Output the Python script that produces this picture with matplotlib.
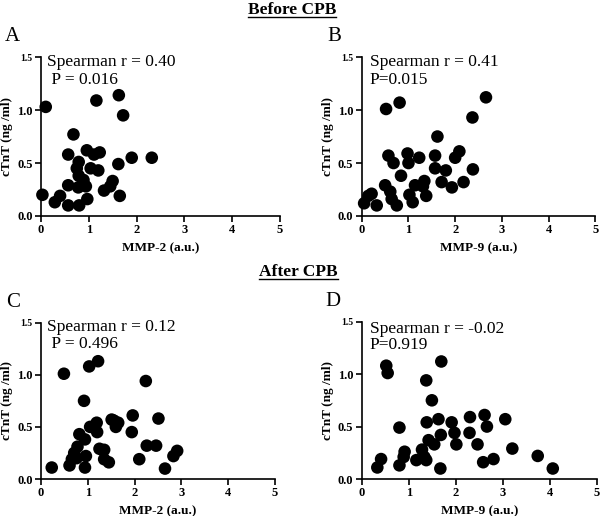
import matplotlib
matplotlib.use("Agg")
import matplotlib.pyplot as plt
from matplotlib.lines import Line2D

plt.rcParams["font.family"] = ["Liberation Serif", "DejaVu Serif"]

# Before CPB, MMP-2 vs cTnT
a_x = [0.03, 0.10, 0.29, 0.40, 0.57, 0.57, 0.57, 0.68, 0.80, 0.78, 0.79, 0.75, 0.79,
       0.89, 0.94, 0.97, 0.96, 1.04, 1.20, 1.11, 1.23, 1.16, 1.32, 1.45, 1.50, 1.62,
       1.65, 1.63, 1.72, 1.90, 2.32]
a_y = [0.20, 1.03, 0.13, 0.19, 0.10, 0.58, 0.29, 0.77, 0.10, 0.27, 0.51, 0.45, 0.38,
       0.34, 0.28, 0.16, 0.62, 0.45, 0.43, 0.58, 0.60, 1.09, 0.24, 0.28, 0.33, 0.49,
       0.19, 1.14, 0.95, 0.55, 0.55]

# Before CPB, MMP-9 vs cTnT
b_x = [0.05, 0.14, 0.21, 0.32, 0.50, 0.52, 0.57, 0.61, 0.64, 0.68, 0.75, 0.81, 0.84,
       0.98, 1.00, 1.02, 1.09, 1.14, 1.23, 1.31, 1.34, 1.38, 1.57, 1.57, 1.62, 1.71,
       1.80, 1.93, 2.00, 2.09, 2.18, 2.37, 2.38, 2.66]
b_y = [0.12, 0.19, 0.21, 0.10, 0.29, 1.01, 0.57, 0.23, 0.16, 0.50, 0.10, 1.07, 0.38,
       0.59, 0.50, 0.20, 0.13, 0.29, 0.55, 0.28, 0.33, 0.19, 0.57, 0.45, 0.75, 0.32,
       0.43, 0.27, 0.55, 0.61, 0.32, 0.93, 0.44, 1.12]

# After CPB, MMP-2 vs cTnT
c_x = [0.23, 0.49, 0.61, 0.71, 0.66, 0.78, 0.82, 0.76, 0.92, 0.94, 0.94, 0.96, 1.03,
       1.05, 1.19, 1.20, 1.22, 1.25, 1.35, 1.35, 1.45, 1.51, 1.56, 1.60, 1.65, 1.94,
       1.96, 2.10, 2.24, 2.26, 2.46, 2.51, 2.65, 2.83, 2.91]
c_y = [0.11, 1.01, 0.13, 0.25, 0.19, 0.31, 0.43, 0.20, 0.75, 0.38, 0.11, 0.22, 1.08,
       0.50, 0.54, 0.45, 1.13, 0.29, 0.28, 0.19, 0.16, 0.57, 0.56, 0.50, 0.54, 0.45,
       0.61, 0.19, 0.94, 0.32, 0.32, 0.58, 0.10, 0.22, 0.27]

# After CPB, MMP-9 vs cTnT
d_x = [0.33, 0.41, 0.52, 0.55, 0.80, 0.80, 0.89, 0.91, 1.16, 1.28, 1.33, 1.37, 1.37,
       1.38, 1.42, 1.49, 1.54, 1.63, 1.67, 1.68, 1.69, 1.91, 1.97, 2.01, 2.29, 2.30,
       2.46, 2.58, 2.61, 2.66, 2.80, 3.05, 3.20, 3.74, 4.06]
d_y = [0.11, 0.19, 1.08, 1.01, 0.13, 0.49, 0.21, 0.26, 0.18, 0.28, 0.21, 0.18, 0.94,
       0.54, 0.37, 0.75, 0.33, 0.57, 0.10, 0.42, 1.12, 0.54, 0.44, 0.33, 0.44, 0.59,
       0.33, 0.16, 0.61, 0.50, 0.19, 0.57, 0.29, 0.22, 0.10]

x_ticks = [0, 1, 2, 3, 4, 5]
y_ticks = [0.0, 0.5, 1.0, 1.5]
y_tick_labels = ["0.0", "0.5", "1.0", "1.5"]

panels = [
    ("A", a_x, a_y, "MMP-2 (a.u.)", "Spearman r = 0.40", " P = 0.016",
     [0.0683, 0.5814, 0.398, 0.308], (0.12, 1.45), (0.12, 1.28)),
    ("B", b_x, b_y, "MMP-9 (a.u.)", "Spearman r = 0.41", "P=0.015",
     [0.603, 0.5814, 0.389, 0.308], (0.17, 1.45), (0.17, 1.28)),
    ("C", c_x, c_y, "MMP-2 (a.u.)", "Spearman r = 0.12", " P = 0.496",
     [0.0683, 0.0717, 0.390, 0.303], (0.12, 1.46), (0.12, 1.30)),
    ("D", d_x, d_y, "MMP-9 (a.u.)", "Spearman r = -0.02", "P=0.919",
     [0.603, 0.0717, 0.392, 0.305], (0.17, 1.43), (0.17, 1.28)),
]

fig = plt.figure(figsize=(6.0, 5.16), dpi=100)

for letter, xs, ys, xlabel, r_text, p_text, rect, r_pos, p_pos in panels:
    ax = fig.add_axes(rect)
    ax.scatter(xs, ys, s=82, color="black", edgecolors="none", clip_on=False, zorder=3)
    ax.set_xlim(0, 5)
    ax.set_ylim(0, 1.5)
    ax.set_xticks(x_ticks)
    ax.set_yticks(y_ticks, labels=y_tick_labels)
    for side in ("top", "right"):
        ax.spines[side].set_visible(False)
    for side in ("left", "bottom"):
        ax.spines[side].set_linewidth(1.2)
    ax.tick_params(direction="out", length=4, width=1.2, labelsize=9, pad=2)
    for lab in ax.get_xticklabels() + ax.get_yticklabels():
        lab.set_fontweight("bold")
    # the top y label is printed smaller in the original
    ax.get_yticklabels()[-1].set_fontsize(7)
    ax.set_xlabel(xlabel, fontsize=9.5, fontweight="bold", labelpad=4)
    ax.set_ylabel("cTnT (ng /ml)", fontsize=9.5, fontweight="bold", labelpad=3)
    ax.text(r_pos[0], r_pos[1], r_text, fontsize=12.5, ha="left", va="center")
    ax.text(p_pos[0], p_pos[1], p_text, fontsize=12.5, ha="left", va="center")
    ax.text(-0.09, 1.07, letter, transform=ax.transAxes, fontsize=15,
            ha="right", va="bottom")

titles = [("Before CPB", 0.487, 1 - 10 / 516), ("After CPB", 0.498, 1 - 272 / 516)]
fig.canvas.draw()
renderer = fig.canvas.get_renderer()
for label, tx, ty in titles:
    t = fig.text(tx, ty, label, fontsize=12.5, fontweight="bold", ha="center", va="center")
    bb = t.get_window_extent(renderer=renderer).transformed(fig.transFigure.inverted())
    y_line = bb.y0 + 0.002
    fig.add_artist(Line2D([bb.x0, bb.x1], [y_line, y_line], color="black", linewidth=1.0))

fig.savefig("out.png", dpi=100)
